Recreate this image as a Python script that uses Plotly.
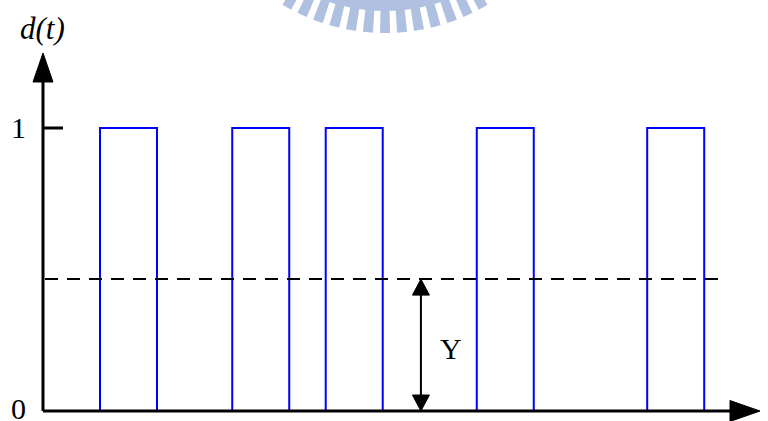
import math
import plotly.graph_objects as go

# ---- data ----
pulse_starts = [1.0, 3.32, 4.96, 7.61, 10.6]   # time of each rising edge
pulse_width = 1.0                                # duration of each pulse
low_level = 0
high_level = 1
mean_level = 0.466                               # Y (dashed level)
y_arrow_t = 6.63                                 # where the Y arrow is drawn
tick_labels = ["0", "1"]
y_label = "d(t)"
mean_label = "Y"

W, H = 768, 421
# axis scale: t=0 at px 43, 57 px per time unit; d=0 at py 411, 283 px per unit
PX_T, PX_D = 57.0, 283.0
x_range = [-43 / PX_T, (W - 43) / PX_T]
y_range = [-(H - 411) / PX_D, -(H - 411) / PX_D + H / PX_D]

def dx(px):  # pixel length -> t units
    return px / PX_T

def dy(px):  # pixel length -> d units
    return px / PX_D

fig = go.Figure()

# pulses
xs, ys = [], []
for s in pulse_starts:
    e = s + pulse_width
    xs += [s, s, e, e, None]
    ys += [low_level, high_level, high_level, low_level, None]
fig.add_trace(go.Scatter(x=xs, y=ys, mode="lines",
                         line=dict(color="#0000FF", width=2),
                         hoverinfo="skip", showlegend=False))

shapes = []
# dashed mean level
shapes.append(dict(type="line", xref="x", yref="y", x0=dx(2), x1=dx(680),
                   y0=mean_level, y1=mean_level,
                   line=dict(color="black", width=2, dash="13px,9px")))
# x axis
x_tip = dx(717)
x_base = x_tip - dx(30)
shapes.append(dict(type="line", xref="x", yref="y", x0=0, x1=x_base, y0=0, y1=0,
                   line=dict(color="black", width=3), layer="above"))
shapes.append(dict(type="path", xref="x", yref="y",
                   path=f"M{x_base},{dy(10.5)} L{x_tip},0 L{x_base},{-dy(10.5)} Z",
                   fillcolor="black", line=dict(color="black", width=1), layer="above"))
# y axis
y_tip = dy(358)
y_base = y_tip - dy(29)
shapes.append(dict(type="line", xref="x", yref="y", x0=0, x1=0, y0=0, y1=y_base,
                   line=dict(color="black", width=3), layer="above"))
shapes.append(dict(type="path", xref="x", yref="y",
                   path=f"M{-dx(10)},{y_base} L0,{y_tip} L{dx(10)},{y_base} Z",
                   fillcolor="black", line=dict(color="black", width=1), layer="above"))
# tick at level 1
shapes.append(dict(type="line", xref="x", yref="y", x0=0, x1=dx(20),
                   y0=high_level, y1=high_level,
                   line=dict(color="black", width=3), layer="above"))
# double arrow for Y
ah_len, ah_w = dy(16), dx(8.5)
shapes.append(dict(type="line", xref="x", yref="y", x0=y_arrow_t, x1=y_arrow_t,
                   y0=ah_len * 0.8, y1=mean_level - ah_len * 0.8,
                   line=dict(color="black", width=2), layer="above"))
shapes.append(dict(type="path", xref="x", yref="y",
                   path=(f"M{y_arrow_t - ah_w},{mean_level - ah_len} L{y_arrow_t},{mean_level} "
                         f"L{y_arrow_t + ah_w},{mean_level - ah_len} Z"),
                   fillcolor="black", line=dict(color="black", width=1), layer="above"))
shapes.append(dict(type="path", xref="x", yref="y",
                   path=(f"M{y_arrow_t - ah_w},{ah_len} L{y_arrow_t},0 "
                         f"L{y_arrow_t + ah_w},{ah_len} Z"),
                   fillcolor="black", line=dict(color="black", width=1), layer="above"))

# watermark (partial light-blue logo ring at top)
wm_color = "rgb(176,192,224)"
cx, cy = 385.0, -167.0
def P(px, py):
    return f"{px / W:.5f},{1 - py / H:.5f}"
def ring_seg(r0, r1, a0, a1, n=8):
    pts = []
    for i in range(n + 1):
        a = math.radians(a0 + (a1 - a0) * i / n)
        pts.append(P(cx + r1 * math.sin(a), cy + r1 * math.cos(a)))
    for i in range(n + 1):
        a = math.radians(a1 - (a1 - a0) * i / n)
        pts.append(P(cx + r0 * math.sin(a), cy + r0 * math.cos(a)))
    return "M" + " L".join(pts) + " Z"
shapes.append(dict(type="path", xref="paper", yref="paper",
                   path=ring_seg(150, 178, -34, 34, 24),
                   fillcolor=wm_color, line=dict(width=0), layer="below"))
n_teeth = 13
period = 4.9
start = -period * (n_teeth - 1) / 2
for k in range(n_teeth):
    c = start + k * period
    shapes.append(dict(type="path", xref="paper", yref="paper",
                       path=ring_seg(176, 200, c - 1.45, c + 1.45, 2),
                       fillcolor=wm_color, line=dict(width=0), layer="below"))

font = dict(family="Liberation Serif", size=30, color="black")
annotations = [
    dict(x=-dx(25), y=low_level + dy(3), xref="x", yref="y", text=tick_labels[0],
         showarrow=False, font=font, xanchor="center", yanchor="middle"),
    dict(x=-dx(24.5), y=high_level + dy(1), xref="x", yref="y", text=tick_labels[1],
         showarrow=False, font=font, xanchor="center", yanchor="middle"),
    dict(x=-dx(1), y=dy(383), xref="x", yref="y", text=f"<i>{y_label}</i>",
         showarrow=False, font=dict(family="Liberation Serif", size=31, color="black"),
         xanchor="center", yanchor="middle"),
    dict(x=y_arrow_t + dx(30), y=dy(63), xref="x", yref="y", text=mean_label,
         showarrow=False, font=font, xanchor="center", yanchor="middle"),
]

fig.update_layout(
    width=W, height=H, margin=dict(l=0, r=0, t=0, b=0),
    paper_bgcolor="white", plot_bgcolor="white",
    xaxis=dict(range=x_range, visible=False, fixedrange=True),
    yaxis=dict(range=y_range, visible=False, fixedrange=True),
    shapes=shapes, annotations=annotations, showlegend=False,
)
fig.write_html("out.html", config={"displayModeBar": False, "staticPlot": True},
               post_script="document.body.style.margin='0';document.body.style.overflow='hidden';")
